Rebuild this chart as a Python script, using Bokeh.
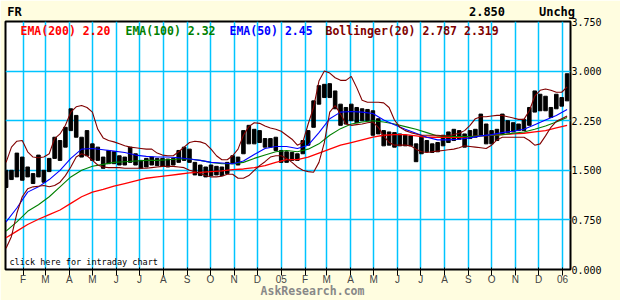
import pandas as pd
from bokeh.plotting import figure
from bokeh.models import FixedTicker, Label, Range1d, ColumnDataSource, LinearAxis
from bokeh.embed import file_html
from bokeh.resources import INLINE

# ---------------- data ----------------
week_start = "2004-01-10"      # weekly samples
price_high = [1.50, 1.50, 1.76, 1.70, 1.55, 1.45, 1.73, 1.50, 1.68, 2.00,
              1.95, 2.15, 2.43, 2.33, 2.00, 2.10, 1.90, 1.85, 1.70, 1.80,
              1.78, 1.72, 1.70, 1.85, 1.75, 1.65, 1.68, 1.70, 1.68, 1.68,
              1.67, 1.68, 1.80, 1.85, 1.82, 1.62, 1.58, 1.55, 1.58, 1.56,
              1.55, 1.62, 1.72, 1.70, 2.10, 2.18, 2.12, 2.10, 1.98, 1.98,
              2.00, 1.80, 1.78, 1.77, 1.75, 1.95, 2.10, 2.55, 2.78, 2.80,
              2.81, 2.70, 2.50, 2.45, 2.50, 2.45, 2.43, 2.42, 2.40, 2.28,
              2.10, 2.08, 2.07, 2.05, 2.03, 2.02, 1.90, 2.00, 1.95, 1.90,
              1.92, 2.03, 2.08, 2.12, 2.10, 2.05, 2.10, 2.12, 2.35, 2.20,
              2.10, 2.12, 2.35, 2.25, 2.22, 2.20, 2.27, 2.45, 2.70, 2.65,
              2.62, 2.45, 2.65, 2.60, 2.96]
price_low = [1.24, 1.36, 1.40, 1.35, 1.40, 1.30, 1.40, 1.32, 1.48, 1.68,
             1.65, 1.85, 2.10, 2.00, 1.70, 1.72, 1.65, 1.65, 1.53, 1.60,
             1.60, 1.58, 1.58, 1.62, 1.58, 1.53, 1.55, 1.58, 1.57, 1.56,
             1.55, 1.58, 1.62, 1.65, 1.62, 1.43, 1.42, 1.40, 1.42, 1.43,
             1.42, 1.45, 1.60, 1.58, 1.75, 1.90, 1.90, 1.92, 1.85, 1.85,
             1.80, 1.62, 1.62, 1.65, 1.65, 1.75, 1.88, 2.15, 2.50, 2.60,
             2.60, 2.43, 2.18, 2.20, 2.25, 2.22, 2.25, 2.25, 2.03, 2.05,
             1.87, 1.88, 1.85, 1.87, 1.87, 1.87, 1.63, 1.75, 1.78, 1.77,
             1.78, 1.87, 1.92, 1.95, 1.97, 1.85, 1.98, 2.00, 2.03, 1.90,
             1.90, 1.95, 2.05, 2.07, 2.08, 2.10, 2.10, 2.18, 2.38, 2.40,
             2.40, 2.30, 2.43, 2.47, 2.55]
boll_upper = [1.62, 1.85, 1.94, 1.95, 1.78, 1.70, 1.69, 1.70, 1.75, 1.98,
              2.05, 2.18, 2.38, 2.46, 2.48, 2.45, 2.38, 2.12, 1.99, 1.95,
              1.93, 1.90, 1.87, 1.85, 1.84, 1.83, 1.82, 1.82, 1.76, 1.73,
              1.72, 1.72, 1.78, 1.85, 1.92, 1.94, 1.93, 1.90, 1.82, 1.72,
              1.66, 1.66, 1.72, 1.82, 2.03, 2.16, 2.22, 2.21, 2.17, 2.14,
              2.12, 2.09, 2.03, 1.97, 1.88, 1.92, 2.20, 2.45, 2.85, 3.00,
              2.97, 2.90, 2.86, 2.86, 2.92, 2.75, 2.56, 2.53, 2.53, 2.53,
              2.52, 2.45, 2.26, 2.15, 2.10, 2.07, 2.05, 2.03, 2.03, 2.03,
              2.03, 2.02, 2.02, 2.04, 2.06, 2.10, 2.18, 2.28, 2.31, 2.31,
              2.32, 2.33, 2.33, 2.31, 2.29, 2.27, 2.27, 2.40, 2.62, 2.71,
              2.73, 2.71, 2.68, 2.68, 2.76]
boll_lower = [0.32, 0.50, 0.85, 1.10, 1.22, 1.25, 1.26, 1.27, 1.25, 1.27,
              1.32, 1.42, 1.55, 1.70, 1.75, 1.72, 1.65, 1.58, 1.55, 1.54,
              1.54, 1.54, 1.53, 1.53, 1.53, 1.53, 1.53, 1.54, 1.55, 1.56,
              1.56, 1.56, 1.55, 1.54, 1.50, 1.48, 1.45, 1.42, 1.40, 1.40,
              1.41, 1.44, 1.44, 1.38, 1.38, 1.42, 1.50, 1.57, 1.63, 1.70,
              1.72, 1.72, 1.68, 1.62, 1.55, 1.50, 1.48, 1.47, 1.62, 1.92,
              2.38, 2.48, 2.35, 2.20, 2.18, 2.19, 2.20, 2.22, 2.23, 2.15,
              2.02, 1.92, 1.88, 1.88, 1.88, 1.87, 1.82, 1.78, 1.77, 1.78,
              1.79, 1.80, 1.81, 1.82, 1.84, 1.87, 1.86, 1.85, 1.84, 1.83,
              1.88, 1.96, 2.00, 2.00, 2.00, 2.00, 2.00, 1.95, 1.88, 1.90,
              2.02, 2.15, 2.24, 2.28, 2.32]

ema_start = "2004-01-10"       # two-weekly samples
ema50 = [0.72, 0.93, 1.17, 1.25, 1.36, 1.50, 1.68, 1.82, 1.83, 1.81,
         1.79, 1.77, 1.73, 1.71, 1.70, 1.70, 1.69, 1.67, 1.65, 1.62,
         1.61, 1.60, 1.64, 1.74, 1.83, 1.86, 1.86, 1.83, 1.88, 2.07,
         2.28, 2.38, 2.39, 2.38, 2.36, 2.26, 2.19, 2.12, 2.06, 2.00,
         1.96, 1.96, 1.97, 1.99, 2.02, 2.04, 2.07, 2.09, 2.12, 2.19,
         2.26, 2.33, 2.42]
ema100 = [0.58, 0.72, 0.88, 0.98, 1.10, 1.25, 1.40, 1.50, 1.56, 1.59,
          1.62, 1.63, 1.64, 1.65, 1.65, 1.66, 1.67, 1.67, 1.65, 1.62,
          1.60, 1.60, 1.62, 1.68, 1.73, 1.78, 1.80, 1.78, 1.82, 1.90,
          2.03, 2.13, 2.20, 2.23, 2.25, 2.23, 2.20, 2.16, 2.12, 2.07,
          2.02, 2.01, 2.01, 2.01, 2.02, 2.03, 2.04, 2.06, 2.08, 2.12,
          2.17, 2.23, 2.30]
ema200 = [0.48, 0.58, 0.68, 0.76, 0.83, 0.90, 1.00, 1.10, 1.17, 1.21,
          1.26, 1.30, 1.34, 1.38, 1.40, 1.42, 1.44, 1.46, 1.47, 1.48,
          1.49, 1.51, 1.52, 1.54, 1.57, 1.62, 1.66, 1.66, 1.70, 1.76,
          1.82, 1.88, 1.92, 1.96, 2.00, 2.03, 2.04, 2.04, 2.02, 2.00,
          2.00, 2.00, 2.00, 2.01, 2.02, 2.03, 2.04, 2.05, 2.06, 2.08,
          2.10, 2.14, 2.18]

month_labels = ["F", "M", "A", "M", "J", "J", "A", "S", "O", "N", "D", "05",
                "F", "M", "A", "M", "J", "J", "A", "S", "O", "N", "D", "06"]
y_ticks = [0.0, 0.75, 1.5, 2.25, 3.0, 3.75]
y_tick_labels = ["0.000", "0.750", "1.500", "2.250", "3.000", "3.750"]

symbol = "FR"
last_price = "2.850"
change = "Unchg"
site = "AskResearch.com"
legend_items = [("EMA(200) 2.20", "#FF0000"), ("EMA(100) 2.32", "#008000"),
                ("EMA(50) 2.45", "#0000FF"), ("Bollinger(20) 2.787 2.319", "#800000")]

# ---------------- build ----------------
wk = pd.date_range(week_start, periods=len(price_high), freq="7D")
bw = pd.date_range(ema_start, periods=len(ema50), freq="14D")
month_ticks = pd.date_range("2004-02-01", periods=len(month_labels), freq="MS")


def ms(ts):
    return ts.value / 1e6


wsrc = ColumnDataSource(dict(x=wk, hi=price_high, lo=price_low, up=boll_upper, dn=boll_lower))
esrc = ColumnDataSource(dict(x=bw, e50=ema50, e100=ema100, e200=ema200))

BG = "#FFFDE0"
GRID = "#00C4FF"
MONO = "DejaVu Sans Mono"

p = figure(width=620, height=300, x_axis_type="datetime", y_axis_location="right",
           output_backend="svg", toolbar_location=None,
           x_range=Range1d(ms(pd.Timestamp("2004-01-09 06:00")), ms(pd.Timestamp("2006-01-11 10:00"))),
           y_range=Range1d(0, 3.75),
           min_border_left=5, min_border_right=50, min_border_top=21, min_border_bottom=30)
p.background_fill_color = "white"
p.border_fill_color = BG
p.outline_line_color = "black"
p.outline_line_width = 2

xt = FixedTicker(ticks=[ms(t) for t in month_ticks])
yt = FixedTicker(ticks=y_ticks)
p.xaxis.ticker = xt
p.xgrid.ticker = xt
p.yaxis.ticker = yt
p.ygrid.ticker = yt
p.xaxis.major_label_overrides = {ms(t): lab for t, lab in zip(month_ticks, month_labels)}
p.yaxis.major_label_overrides = {v: lab for v, lab in zip(y_ticks, y_tick_labels)}
p.xaxis.major_label_text_font_size = "10px"
p.xaxis.major_label_standoff = -2
p.yaxis.major_label_text_font_size = "10px"
p.yaxis.major_label_standoff = 1

# header / footer text carried by label-only axes on a pixel-like range
p.extra_x_ranges = {"px": Range1d(5, 570)}
head = LinearAxis(x_range_name="px",
                  ticker=FixedTicker(ticks=[14, 486.5, 556.5]),
                  major_label_overrides={14: symbol, 486.5: last_price, 556.5: change},
                  major_label_text_font_size="12px", major_label_text_font_style="bold",
                  major_label_standoff=3)
foot = LinearAxis(x_range_name="px",
                  ticker=FixedTicker(ticks=[312]),
                  major_label_overrides={312: site},
                  major_label_text_font_size="11.5px", major_label_text_font_style="bold",
                  major_label_text_color="#888888", major_label_standoff=-4)
p.add_layout(head, "above")
p.add_layout(foot, "below")

for ax in (p.xaxis[0], p.yaxis[0], head, foot):
    ax.axis_line_color = None
    ax.major_tick_line_color = None
    ax.minor_tick_line_color = None
    ax.major_tick_out = 0
    ax.major_tick_in = 0
    ax.minor_tick_out = 0
    ax.minor_tick_in = 0
    ax.axis_label_standoff = 0
    ax.major_label_text_font = MONO
for ax in (p.xaxis[0], p.yaxis[0], head):
    ax.major_label_text_color = "black"

p.xgrid.grid_line_color = GRID
p.ygrid.grid_line_color = GRID
p.xgrid.grid_line_width = 1.5
p.ygrid.grid_line_width = 1.5
p.grid.grid_line_alpha = 1.0

day = 86400000
p.vbar(x="x", top="hi", bottom="lo", width=4.6 * day, source=wsrc, color="black")
p.line("x", "e200", source=esrc, color="#FF0000", line_width=1.3)
p.line("x", "e100", source=esrc, color="#008000", line_width=1.1)
p.line("x", "e50", source=esrc, color="#0000FF", line_width=1.1)
p.line("x", "up", source=wsrc, color="#800000", line_width=1.1)
p.line("x", "dn", source=wsrc, color="#800000", line_width=1.1)


def lab(x, y, text, color="black", size="12px", style="bold", font=MONO):
    p.add_layout(Label(x=x, y=y, x_units="screen", y_units="data", text=text,
                       text_color=color, text_font=font, text_font_size=size,
                       text_font_style=style, text_baseline="middle", text_align="left"))


for (txt, col), x0 in zip(legend_items, [15, 120, 224, 320]):
    lab(x0, 3.61, txt, color=col, size="11.5px")
lab(4, 0.12, "click here for intraday chart", size="8.5px", style="normal")

open("out.html", "w").write(file_html(p, INLINE))
